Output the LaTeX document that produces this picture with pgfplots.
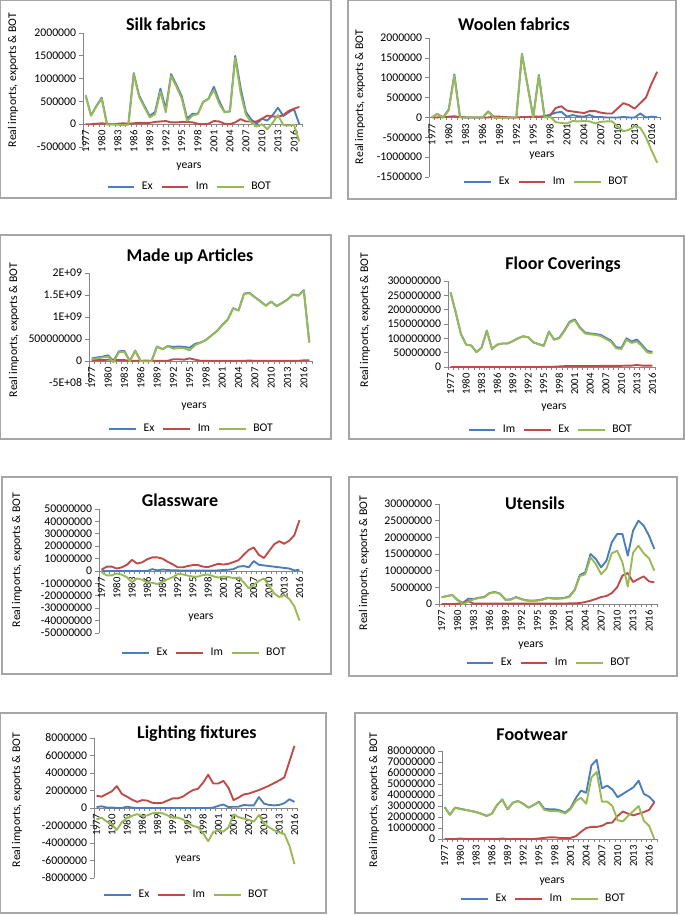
\documentclass[border=0pt]{standalone}
\usepackage{pgfplots}
\pgfplotsset{compat=1.18}
\usepackage{pgfplotstable}
\usepackage{fontspec}
\setmainfont{Carlito}
\definecolor{cEx}{RGB}{74,126,187}
\definecolor{cIm}{RGB}{190,75,72}
\definecolor{cBOT}{RGB}{152,185,84}
\definecolor{axgray}{RGB}{134,134,134}
\definecolor{boxgray}{RGB}{166,166,166}

\pgfplotstableread{
year Ex Im BOT
1977 630000 0 630000
1978 190000 0 190000
1979 400000 10000 390000
1980 580000 20000 560000
1981 0 10000 -10000
1982 0 0 0
1983 0 10000 -10000
1984 0 20000 -20000
1985 0 10000 -10000
1986 1120000 20000 1100000
1987 630000 30000 600000
1988 400000 30000 370000
1989 180000 30000 150000
1990 270000 50000 220000
1991 780000 60000 720000
1992 330000 70000 260000
1993 1100000 40000 1060000
1994 860000 40000 820000
1995 610000 50000 560000
1996 120000 50000 70000
1997 230000 40000 190000
1998 230000 10000 220000
1999 490000 0 490000
2000 560000 10000 550000
2001 820000 70000 750000
2002 510000 60000 450000
2003 270000 10000 260000
2004 280000 0 280000
2005 1500000 40000 1460000
2006 800000 110000 690000
2007 270000 60000 210000
2008 100000 60000 40000
2009 10000 60000 -50000
2010 120000 120000 0
2011 80000 190000 -110000
2012 200000 170000 30000
2013 360000 160000 200000
2014 180000 200000 -20000
2015 260000 290000 -30000
2016 330000 340000 -10000
2017 0 380000 -380000
}\silk

\pgfplotstableread{
year Ex Im BOT
1977 0 0 0
1978 90000 0 90000
1979 0 10000 -10000
1980 200000 20000 180000
1981 1080000 30000 1050000
1982 10000 10000 0
1983 0 0 0
1984 0 0 0
1985 0 0 0
1986 0 0 0
1987 150000 0 150000
1988 10000 20000 -10000
1989 10000 20000 -10000
1990 0 10000 -10000
1991 0 0 0
1992 0 0 0
1993 1600000 10000 1590000
1994 800000 10000 790000
1995 20000 20000 0
1996 1070000 20000 1050000
1997 30000 30000 0
1998 70000 50000 20000
1999 120000 240000 -120000
2000 140000 280000 -140000
2001 20000 170000 -150000
2002 60000 150000 -90000
2003 30000 130000 -100000
2004 20000 110000 -90000
2005 60000 160000 -100000
2006 10000 160000 -150000
2007 10000 120000 -110000
2008 0 100000 -100000
2009 0 100000 -100000
2010 0 230000 -230000
2011 10000 360000 -350000
2012 0 310000 -310000
2013 0 220000 -220000
2014 100000 360000 -260000
2015 0 500000 -500000
2016 20000 850000 -830000
2017 10000 1150000 -1140000
}\woolen

\pgfplotstableread{
year Ex Im BOT
1977 60000000 20000000 40000000
1978 80000000 20000000 60000000
1979 100000000 20000000 80000000
1980 130000000 30000000 100000000
1981 0 30000000 -30000000
1982 220000000 20000000 200000000
1983 230000000 20000000 210000000
1984 0 5000000 -5000000
1985 235000000 5000000 230000000
1986 0 5000000 -5000000
1987 0 10000000 -10000000
1988 0 5000000 -5000000
1989 330000000 5000000 325000000
1990 270000000 5000000 265000000
1991 340000000 5000000 335000000
1992 320000000 40000000 280000000
1993 330000000 40000000 290000000
1994 320000000 30000000 290000000
1995 300000000 60000000 240000000
1996 390000000 30000000 360000000
1997 420000000 5000000 415000000
1998 480000000 5000000 475000000
1999 580000000 5000000 575000000
2000 680000000 5000000 675000000
2001 820000000 5000000 815000000
2002 940000000 5000000 935000000
2003 1200000000 5000000 1195000000
2004 1150000000 5000000 1145000000
2005 1530000000 5000000 1525000000
2006 1550000000 10000000 1540000000
2007 1450000000 5000000 1445000000
2008 1360000000 5000000 1355000000
2009 1260000000 5000000 1255000000
2010 1350000000 5000000 1345000000
2011 1250000000 5000000 1245000000
2012 1320000000 5000000 1315000000
2013 1400000000 5000000 1395000000
2014 1510000000 5000000 1505000000
2015 1490000000 5000000 1485000000
2016 1610000000 15000000 1595000000
2017 430000000 15000000 415000000
}\madeup

\pgfplotstableread{
year Im Ex BOT
1977 260000000 0 260000000
1978 190000000 0 190000000
1979 115000000 0 115000000
1980 78000000 0 78000000
1981 75000000 0 75000000
1982 52000000 0 52000000
1983 68000000 0 68000000
1984 127000000 0 127000000
1985 63000000 0 63000000
1986 78000000 0 78000000
1987 82000000 0 82000000
1988 82000000 0 82000000
1989 90000000 0 90000000
1990 100000000 0 100000000
1991 107000000 0 107000000
1992 104000000 0 104000000
1993 86000000 0 86000000
1994 80000000 0 80000000
1995 74000000 1000000 73000000
1996 124000000 1000000 123000000
1997 96000000 1000000 95000000
1998 102000000 2000000 100000000
1999 128000000 3000000 125000000
2000 158000000 3000000 155000000
2001 166000000 3000000 163000000
2002 138000000 3000000 135000000
2003 120000000 3000000 117000000
2004 117000000 3000000 114000000
2005 115000000 3000000 112000000
2006 112000000 4000000 108000000
2007 102000000 4000000 98000000
2008 92000000 4000000 88000000
2009 69000000 4000000 65000000
2010 67000000 4000000 63000000
2011 100000000 5000000 95000000
2012 89000000 5000000 84000000
2013 96000000 7000000 89000000
2014 77000000 5000000 72000000
2015 56000000 5000000 51000000
2016 53000000 5000000 48000000
}\floor

\pgfplotstableread{
year Ex Im BOT
1977 0 1000000 -1000000
1978 0 3500000 -3500000
1979 0 3500000 -3500000
1980 0 2000000 -2000000
1981 0 3000000 -3000000
1982 0 5000000 -5000000
1983 0 9000000 -9000000
1984 0 6000000 -6000000
1985 0 7000000 -7000000
1986 0 9500000 -9500000
1987 1500000 11000000 -9500000
1988 500000 11000000 -10500000
1989 1200000 10000000 -8800000
1990 800000 7500000 -6700000
1991 500000 5500000 -5000000
1992 500000 3000000 -2500000
1993 300000 3000000 -2700000
1994 300000 4000000 -3700000
1995 300000 4800000 -4500000
1996 300000 4800000 -4500000
1997 300000 3500000 -3200000
1998 300000 3200000 -2900000
1999 300000 4500000 -4200000
2000 500000 5800000 -5300000
2001 800000 5200000 -4400000
2002 1000000 5800000 -4800000
2003 1500000 7200000 -5700000
2004 3500000 8800000 -5300000
2005 4000000 13000000 -9000000
2006 3000000 17000000 -14000000
2007 8000000 19000000 -11000000
2008 5000000 13000000 -8000000
2009 4500000 10500000 -6000000
2010 4000000 16000000 -12000000
2011 3500000 21500000 -18000000
2012 3000000 24000000 -21000000
2013 2500000 22000000 -19500000
2014 2000000 24500000 -22500000
2015 500000 29000000 -28500000
2016 1000000 41000000 -40000000
}\glass

\pgfplotstableread{
year Ex Im BOT
1977 2000000 0 2000000
1978 2400000 0 2400000
1979 2700000 0 2700000
1980 1200000 100000 1100000
1981 300000 300000 0
1982 1600000 900000 700000
1983 1500000 100000 1400000
1984 1900000 100000 1800000
1985 2100000 100000 2000000
1986 3300000 100000 3200000
1987 3600000 100000 3500000
1988 3100000 100000 3000000
1989 1300000 100000 1200000
1990 1400000 100000 1300000
1991 2100000 100000 2000000
1992 1500000 100000 1400000
1993 1100000 100000 1000000
1994 1000000 100000 900000
1995 1100000 100000 1000000
1996 1400000 100000 1300000
1997 1900000 100000 1800000
1998 1700000 100000 1600000
1999 1700000 100000 1600000
2000 1800000 100000 1700000
2001 2300000 200000 2100000
2002 4200000 200000 4000000
2003 8700000 300000 8400000
2004 9500000 600000 8900000
2005 15000000 1000000 14000000
2006 13500000 1500000 12000000
2007 11000000 2100000 8900000
2008 13000000 2400000 10600000
2009 18500000 3300000 15200000
2010 21000000 5000000 16000000
2011 21000000 8500000 12500000
2012 14500000 9300000 5200000
2013 22000000 6600000 15400000
2014 25000000 7500000 17500000
2015 23500000 8300000 15200000
2016 20500000 6800000 13700000
2017 16500000 6500000 10000000
}\utensils

\pgfplotstableread{
year Ex Im BOT
1977 100000 1400000 -1300000
1978 200000 1300000 -1100000
1979 50000 1600000 -1550000
1980 50000 1900000 -1850000
1981 0 2500000 -2500000
1982 0 1600000 -1600000
1983 150000 1300000 -1150000
1984 50000 950000 -900000
1985 0 700000 -700000
1986 0 900000 -900000
1987 0 850000 -850000
1988 0 600000 -600000
1989 0 550000 -550000
1990 0 600000 -600000
1991 0 850000 -850000
1992 0 1100000 -1100000
1993 0 1100000 -1100000
1994 0 1300000 -1300000
1995 0 1700000 -1700000
1996 0 2050000 -2050000
1997 0 2200000 -2200000
1998 0 2900000 -2900000
1999 0 3800000 -3800000
2000 50000 2800000 -2750000
2001 250000 2800000 -2550000
2002 400000 3100000 -2700000
2003 100000 2300000 -2200000
2004 150000 900000 -750000
2005 150000 1200000 -1050000
2006 350000 1550000 -1200000
2007 300000 1650000 -1350000
2008 300000 1850000 -1550000
2009 1250000 2050000 -800000
2010 500000 2300000 -1800000
2011 350000 2550000 -2200000
2012 300000 2850000 -2550000
2013 350000 3150000 -2800000
2014 550000 3500000 -2950000
2015 1000000 5300000 -4300000
2016 700000 7100000 -6400000
}\lighting

\pgfplotstableread{
year Ex Im BOT
1977 29000000 0 29000000
1978 22000000 0 22000000
1979 28500000 0 28500000
1980 27500000 500000 27000000
1981 26500000 0 26500000
1982 25500000 0 25500000
1983 24500000 0 24500000
1984 23000000 0 23000000
1985 21000000 0 21000000
1986 23000000 0 23000000
1987 31000000 0 31000000
1988 36000000 500000 35500000
1989 27000000 0 27000000
1990 33000000 0 33000000
1991 34500000 0 34500000
1992 32000000 0 32000000
1993 28500000 0 28500000
1994 31000000 0 31000000
1995 34000000 500000 33500000
1996 27500000 1000000 26500000
1997 27000000 1500000 25500000
1998 27000000 1500000 25500000
1999 26000000 1000000 25000000
2000 24000000 800000 23200000
2001 28000000 1000000 27000000
2002 37000000 2500000 34500000
2003 44000000 6500000 37500000
2004 42000000 10000000 32000000
2005 67000000 11000000 56000000
2006 72000000 11000000 61000000
2007 46000000 12000000 34000000
2008 48500000 14500000 34000000
2009 45000000 15000000 30000000
2010 38000000 21000000 17000000
2011 41000000 25000000 16000000
2012 44000000 23000000 21000000
2013 47000000 21500000 25500000
2014 53000000 23000000 30000000
2015 41000000 24500000 16500000
2016 38500000 26500000 12000000
2017 33500000 33500000 0
}\footwear

\pgfplotsset{
  legend image code/.code={\draw[#1] (0pt,0pt) -- (20pt,0pt);},
  panel/.style={
    scale only axis, anchor=south west, clip=false,
    axis y line=left, axis x line=middle,
    axis line style={-, draw=axgray, line width=0.6pt},
    hide obscured x ticks=false, hide obscured y ticks=false,
    scaled y ticks=false, scaled x ticks=false,
    xmin=1976.5,
    xtick={1977,1980,...,2016},
    xticklabels={1977,1980,1983,1986,1989,1992,1995,1998,2001,2004,2007,2010,2013,2016},
    major x tick style={draw=none},
    minor xtick={1976.5,1977.5,...,2017.5},
    minor x tick style={draw=axgray, line width=0.5pt},
    ytick style={draw=axgray, line width=0.5pt},
    tick align=outside,
    minor tick length=2.2pt, major tick length=3pt,
    xticklabel style={rotate=90, anchor=east, font=\fontsize{8}{9}\selectfont, inner sep=1.5pt},
    yticklabel style={font=\fontsize{8.8}{10}\selectfont, inner sep=2pt},
    every axis plot/.append style={line width=1.4pt, line join=round, mark=none},
    legend style={draw=none, fill=none, legend columns=-1, anchor=center,
      font=\fontsize{8.8}{10}\selectfont,
      /tikz/every odd column/.append style={column sep=3pt},
      /tikz/every even column/.append style={column sep=4pt}},
  },
  ptitle/.style 2 args={every axis title/.style={at={(axis description cs:#1,#2)}, anchor=center, font=\bfseries\fontsize{13.5}{15}\selectfont}},
  pylab/.style 2 args={every axis y label/.style={at={(axis description cs:#1,#2)}, rotate=90, anchor=center, font=\fontsize{8.8}{10}\selectfont}},
  pxlab/.style 2 args={every axis x label/.style={at={(axis description cs:#1,#2)}, anchor=center, font=\fontsize{8.8}{10}\selectfont}},
  pleg/.style 2 args={legend style={at={(#1,#2)}}},
}

\begin{document}
\begin{tikzpicture}
\useasboundingbox (0pt,0pt) rectangle (513.75pt,-686.25pt);
\begin{scope}[draw=boxgray, line width=1pt]
\draw (0.5pt,-0.5pt) rectangle (248.25pt,-148.5pt);
\draw (261pt,-0.5pt) rectangle (507pt,-149.25pt);
\draw (0.5pt,-176.25pt) rectangle (248.25pt,-329.25pt);
\draw (261.75pt,-177pt) rectangle (513pt,-329.25pt);
\draw (1.5pt,-357.75pt) rectangle (248.25pt,-505.5pt);
\draw (261.75pt,-357.75pt) rectangle (507.75pt,-507pt);
\draw (0.5pt,-534.75pt) rectangle (244.5pt,-684.75pt);
\draw (266.25pt,-534.75pt) rectangle (507.75pt,-684.75pt);
\end{scope}

% 1 Silk fabrics
\begin{axis}[panel, at={(62.25pt,-110.25pt)}, width=164.25pt, height=85.5pt,
  xmax=2017.5, ymin=-500000, ymax=2000000,
  ytick={-500000,0,500000,1000000,1500000,2000000},
  yticklabels={-500000,0,500000,1000000,1500000,2000000},
  title={Silk fabrics}, ptitle={0.379}{1.079},
  ylabel={Real imports, exports \& BOT}, pylab={-0.32}{0.588},
  xlabel={years}, pxlab={0.484}{-0.175}, pleg={0.489}{-0.351}]
\addplot[cEx] table[x=year,y=Ex]{\silk};
\addplot[cIm] table[x=year,y=Im]{\silk};
\addplot[cBOT] table[x=year,y=BOT]{\silk};
\legend{Ex,Im,BOT}
\end{axis}

% 2 Woolen fabrics
\begin{axis}[panel, at={(321.75pt,-132.75pt)}, width=173.25pt, height=104.25pt,
  xmax=2017.5, ymin=-1500000, ymax=2000000,
  ytick={-1500000,-1000000,-500000,0,500000,1000000,1500000,2000000},
  yticklabels={-1500000,-1000000,-500000,0,500000,1000000,1500000,2000000},
  title={Woolen fabrics}, ptitle={0.368}{1.101},
  ylabel={Real imports, exports \& BOT}, pylab={-0.299}{0.576},
  xlabel={years}, pxlab={0.489}{0.151}, pleg={0.511}{-0.036}]
\addplot[cEx] table[x=year,y=Ex]{\woolen};
\addplot[cIm] table[x=year,y=Im]{\woolen};
\addplot[cBOT] table[x=year,y=BOT]{\woolen};
\legend{Ex,Im,BOT}
\end{axis}

% 3 Made up Articles
\begin{axis}[panel, at={(66.75pt,-287.25pt)}, width=167.25pt, height=82.5pt,
  xmax=2017.5, ymin=-500000000, ymax=2000000000,
  ytick={-500000000,0,500000000,1000000000,1500000000,2000000000},
  yticklabels={-5E+08,0,500000000,1E+09,1.5E+09,2E+09},
  title={Made up Articles}, ptitle={0.453}{1.145},
  ylabel={Real imports, exports \& BOT}, pylab={-0.336}{0.482},
  xlabel={years}, pxlab={0.471}{-0.218}, pleg={0.462}{-0.418}]
\addplot[cEx] table[x=year,y=Ex]{\madeup};
\addplot[cIm] table[x=year,y=Im]{\madeup};
\addplot[cBOT] table[x=year,y=BOT]{\madeup};
\legend{Ex,Im,BOT}
\end{axis}

% 4 Floor Coverings
\begin{axis}[panel, at={(336pt,-275.25pt)}, width=155.25pt, height=64.5pt,
  xmax=2016.5, ymin=0, ymax=300000000,
  ytick={0,50000000,100000000,150000000,200000000,250000000,300000000},
  yticklabels={0,50000000,100000000,150000000,200000000,250000000,300000000},
  title={Floor Coverings}, ptitle={0.556}{1.186},
  ylabel={Real imports, exports \& BOT}, pylab={-0.401}{0.547},
  xlabel={years}, pxlab={0.512}{-0.477}, pleg={0.498}{-0.733}]
\addplot[cEx] table[x=year,y=Im]{\floor};
\addplot[cIm] table[x=year,y=Ex]{\floor};
\addplot[cBOT] table[x=year,y=BOT]{\floor};
\legend{Im,Ex,BOT}
\end{axis}

% 5 Glassware
\begin{axis}[panel, at={(74.25pt,-474.75pt)}, width=152.25pt, height=93pt,
  xmax=2016.5, ymin=-50000000, ymax=50000000,
  ytick={-50000000,-40000000,-30000000,-20000000,-10000000,0,10000000,20000000,30000000,40000000,50000000},
  yticklabels={-50000000,-40000000,-30000000,-20000000,-10000000,0,10000000,20000000,30000000,40000000,50000000},
  title={Glassware}, ptitle={0.399}{1.073},
  ylabel={Real imports, exports \& BOT}, pylab={-0.404}{0.589},
  xlabel={years}, pxlab={0.502}{0.121}, pleg={0.522}{-0.161}]
\addplot[cEx] table[x=year,y=Ex]{\glass};
\addplot[cIm] table[x=year,y=Im]{\glass};
\addplot[cBOT] table[x=year,y=BOT]{\glass};
\legend{Ex,Im,BOT}
\end{axis}

% 6 Utensils
\begin{axis}[panel, at={(329.25pt,-453pt)}, width=163.5pt, height=75pt,
  xmax=2017.5, ymin=0, ymax=30000000,
  ytick={0,5000000,10000000,15000000,20000000,25000000,30000000},
  yticklabels={0,5000000,10000000,15000000,20000000,25000000,30000000},
  title={Utensils}, ptitle={0.44}{1.01},
  ylabel={Real imports, exports \& BOT}, pylab={-0.344}{0.41},
  xlabel={years}, pxlab={0.422}{-0.42}, pleg={0.505}{-0.59}]
\addplot[cEx] table[x=year,y=Ex]{\utensils};
\addplot[cIm] table[x=year,y=Im]{\utensils};
\addplot[cBOT] table[x=year,y=BOT]{\utensils};
\legend{Ex,Im,BOT}
\end{axis}

% 7 Lighting fixtures
\begin{axis}[panel, at={(70.5pt,-658.5pt)}, width=152.25pt, height=105pt,
  xmax=2016.5, ymin=-8000000, ymax=8000000,
  ytick={-8000000,-6000000,-4000000,-2000000,0,2000000,4000000,6000000,8000000},
  yticklabels={-8000000,-6000000,-4000000,-2000000,0,2000000,4000000,6000000,8000000},
  title={Lighting fixtures}, ptitle={0.507}{1.029},
  ylabel={Real imports, exports \& BOT}, pylab={-0.379}{0.557},
  xlabel={years}, pxlab={0.463}{0.129}, pleg={0.458}{-0.121}]
\addplot[cEx] table[x=year,y=Ex]{\lighting};
\addplot[cIm] table[x=year,y=Im]{\lighting};
\addplot[cBOT] table[x=year,y=BOT]{\lighting};
\legend{Ex,Im,BOT}
\end{axis}

% 8 Footwear
\begin{axis}[panel, at={(331.5pt,-629.25pt)}, width=161.25pt, height=66pt,
  xmax=2017.5, ymin=0, ymax=80000000,
  ytick={0,10000000,20000000,30000000,40000000,50000000,60000000,70000000,80000000},
  yticklabels={0,10000000,20000000,30000000,40000000,50000000,60000000,70000000,80000000},
  title={Footwear}, ptitle={0.419}{1.182},
  ylabel={Real imports, exports \& BOT}, pylab={-0.316}{0.443},
  xlabel={years}, pxlab={0.512}{-0.489}, pleg={0.474}{-0.682}]
\addplot[cEx] table[x=year,y=Ex]{\footwear};
\addplot[cIm] table[x=year,y=Im]{\footwear};
\addplot[cBOT] table[x=year,y=BOT]{\footwear};
\legend{Ex,Im,BOT}
\end{axis}
\end{tikzpicture}
\end{document}
